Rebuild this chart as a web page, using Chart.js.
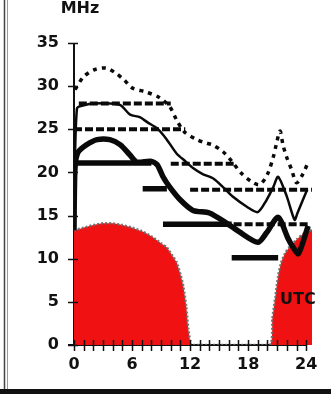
<!DOCTYPE html>
<html>
<head>
<meta charset="utf-8">
<script src="https://cdn.jsdelivr.net/npm/chart.js@4/dist/chart.umd.min.js"></script>
<style>
  html, body { margin: 0; padding: 0; background: #fff; }
  #wrap { position: relative; width: 331px; height: 394px; }
</style>
</head>
<body>
<div id="wrap"><canvas id="c"></canvas></div>
<script>
// ---- data ----
const xTickLabels = [0, 6, 12, 18, 24];
const yTickLabels = [0, 5, 10, 15, 20, 25, 30, 35];

// upper dotted curve
const upperHours = [0.1, 1.0, 2.1, 3.3, 4.2, 5.2, 6.0, 7.5, 8.8, 9.9, 10.6, 11.4, 12.7, 13.7, 14.3, 15.4, 16.3, 17.3, 18.4, 19.2, 20.0, 20.6, 20.9, 21.3, 21.6, 22.0, 22.5, 23.0, 23.6, 24.1];
const upperMHz   = [29.6, 31.1, 31.9, 32.1, 31.6, 30.7, 29.8, 29.3, 28.7, 27.6, 26.1, 24.7, 23.8, 23.4, 23.2, 22.4, 21.3, 19.9, 18.9, 18.6, 19.8, 21.8, 23.2, 24.8, 23.2, 21.7, 20.3, 18.8, 19.7, 20.9];

// thin solid curve
const thinHours = [0, 0.3, 1.1, 2.0, 3.7, 4.8, 5.8, 6.8, 7.6, 8.6, 9.6, 10.6, 11.5, 12.3, 13.3, 14.4, 15.4, 16.4, 17.9, 19.0, 19.9, 20.6, 21.1, 22.0, 22.8, 23.1, 24.1];
const thinMHz   = [14.0, 27.4, 27.8, 28.0, 28.0, 27.8, 26.7, 26.4, 25.8, 25.1, 23.8, 22.2, 21.3, 20.5, 19.8, 19.3, 18.3, 17.2, 16.0, 15.4, 16.8, 18.3, 19.5, 17.2, 14.5, 15.3, 18.0];

// thick solid curve
const thickHours = [0, 0.1, 0.4, 1.3, 2.4, 3.7, 4.8, 5.8, 6.5, 7.9, 8.6, 9.2, 9.9, 11.0, 12.3, 14.0, 15.8, 17.1, 19.0, 19.9, 21.1, 22.1, 22.6, 23.2, 24.2];
const thickMHz   = [13.3, 20.5, 22.3, 23.2, 23.8, 23.8, 23.2, 22.0, 21.2, 21.3, 20.9, 19.5, 18.3, 16.8, 15.6, 15.3, 14.1, 13.1, 11.9, 13.0, 14.8, 12.4, 11.4, 10.6, 13.8];

// dashed horizontal segments
const dashFrom  = [0.5, 0, 10, 12, 16.5];
const dashTo    = [10, 11.5, 16.5, 24.6, 24.3];
const dashLevel = [28, 25, 21, 18, 14];

// thick solid horizontal segments
const stepFrom  = [0, 7.1, 9.2, 16.3];
const stepTo    = [8, 9.6, 16.3, 21.1];
const stepLevel = [21.1, 18.1, 14, 10.1];

// red area
const redHours = [0, 1, 2, 3, 4, 5, 6, 7, 8, 9, 9.6, 10.2, 10.6, 11, 11.3, 11.6, 11.8, 12, 12.1, 20.2, 20.5, 20.8, 21.1, 21.4, 21.8, 22.3, 23, 23.7, 24.6];
const redMHz   = [13.3, 13.6, 13.9, 14.1, 14.1, 13.9, 13.6, 13.2, 12.6, 11.8, 11.3, 10.3, 9.6, 8.2, 6.8, 4.5, 2, 0.5, 0, 0, 3, 5.5, 8, 9.5, 10.6, 11.4, 12.2, 12.9, 13.4];

// ---- helpers ----
const pts = (xs, ys) => xs.map((x, i) => ({ x: x, y: ys[i] }));
const segs = (from, to, lvl) => {
  const out = [];
  from.forEach((f, i) => {
    out.push({ x: f, y: lvl[i] }, { x: to[i], y: lvl[i] }, { x: to[i], y: null });
  });
  return out;
};

const FONT = "'DejaVu Sans', 'Liberation Sans', sans-serif";

const decorPlugin = {
  id: 'decor',
  beforeDraw(chart) {
    const ctx = chart.ctx;
    ctx.save();
    ctx.fillStyle = '#fff';
    ctx.fillRect(0, 0, chart.width, chart.height);
    // frame
    ctx.strokeStyle = '#444';
    ctx.lineWidth = 1.5;
    ctx.beginPath(); ctx.moveTo(4.5, 0); ctx.lineTo(4.5, chart.height); ctx.stroke();
    ctx.strokeStyle = '#999';
    ctx.lineWidth = 1;
    ctx.beginPath(); ctx.moveTo(7.5, 0); ctx.lineTo(7.5, chart.height); ctx.stroke();
    ctx.fillStyle = '#111';
    ctx.fillRect(0, chart.height - 5, chart.width, 5);
    ctx.restore();
  },
  beforeDatasetsDraw(chart) {
    const ctx = chart.ctx, xs = chart.scales.x, ys = chart.scales.y;
    const x0 = xs.getPixelForValue(0), y0 = ys.getPixelForValue(0);
    const xEnd = xs.getPixelForValue(24), yTop = ys.getPixelForValue(35);
    ctx.save();
    ctx.strokeStyle = '#111';
    ctx.lineWidth = 2;
    ctx.beginPath();
    ctx.moveTo(x0, yTop); ctx.lineTo(x0, y0);
    ctx.moveTo(x0 - 6, y0); ctx.lineTo(xEnd, y0);
    ctx.stroke();
    ctx.restore();
  },
  afterDatasetsDraw(chart) {
    const ctx = chart.ctx, xs = chart.scales.x, ys = chart.scales.y;
    const x0 = xs.getPixelForValue(0), y0 = ys.getPixelForValue(0);
    ctx.save();
    ctx.strokeStyle = '#111';
    ctx.lineWidth = 1.5;
    ctx.beginPath();
    for (let h = 0; h <= 24; h++) {
      const px = Math.round(xs.getPixelForValue(h)) + 0.5;
      ctx.moveTo(px, y0 - 5); ctx.lineTo(px, y0 + 6);
    }
    yTickLabels.forEach(v => {
      const py = Math.round(ys.getPixelForValue(v)) + 0.5;
      ctx.moveTo(x0 - 6, py); ctx.lineTo(x0 + 4, py);
    });
    ctx.stroke();
    // text labels
    ctx.fillStyle = '#111';
    ctx.font = 'bold 16px ' + FONT;
    ctx.textAlign = 'center';
    ctx.textBaseline = 'alphabetic';
    ctx.fillText('MHz', x0 + 6, ys.top - 30);
    ctx.textAlign = 'left';
    ctx.fillText('UTC', xs.getPixelForValue(21.3), ys.getPixelForValue(4.8));
    ctx.restore();
  }
};

new Chart(document.getElementById('c'), {
  type: 'line',
  data: {
    datasets: [
      { label: 'thick', data: pts(thickHours, thickMHz), borderColor: '#0a0a0a', borderWidth: 5.5, tension: 0.25, pointRadius: 0, fill: false, order: 1 },
      { label: 'steps', data: segs(stepFrom, stepTo, stepLevel), borderColor: '#0a0a0a', borderWidth: 5.5, tension: 0, pointRadius: 0, spanGaps: false, fill: false, order: 2 },
      { label: 'thin', data: pts(thinHours, thinMHz), borderColor: '#0a0a0a', borderWidth: 2.5, tension: 0.25, pointRadius: 0, fill: false, order: 3 },
      { label: 'dashed', data: segs(dashFrom, dashTo, dashLevel), borderColor: '#0a0a0a', borderWidth: 4, borderDash: [8, 3], tension: 0, pointRadius: 0, spanGaps: false, fill: false, order: 4 },
      { label: 'upper', data: pts(upperHours, upperMHz), borderColor: '#0a0a0a', borderWidth: 3.5, borderDash: [4, 5], tension: 0.3, pointRadius: 0, fill: false, order: 5 },
      { label: 'red', data: pts(redHours, redMHz), borderColor: 'rgba(105,105,105,0.9)', borderWidth: 2.5, borderDash: [2, 2], backgroundColor: 'rgb(240,18,18)', tension: 0.2, pointRadius: 0, fill: 'origin', order: 6 }
    ]
  },
  options: {
    responsive: true,
    maintainAspectRatio: false,
    animation: false,
    events: [],
    layout: { padding: { top: 43, right: 19, bottom: 0, left: 0 } },
    plugins: { legend: { display: false }, tooltip: { enabled: false }, title: { display: false } },
    scales: {
      x: {
        type: 'linear', min: 0, max: 24.6,
        grid: { display: false, drawTicks: false },
        border: { display: false },
        afterBuildTicks: s => { s.ticks = xTickLabels.map(v => ({ value: v })); },
        afterFit: s => { s.height = 49; },
        ticks: { padding: 10, color: '#111', font: { family: FONT, size: 16, weight: 'bold' }, maxRotation: 0, autoSkip: false }
      },
      y: {
        type: 'linear', min: 0, max: 35,
        grid: { display: false, drawTicks: false },
        border: { display: false },
        afterBuildTicks: s => { s.ticks = yTickLabels.map(v => ({ value: v })); },
        afterFit: s => { s.width = 74; },
        ticks: { padding: 15, color: '#111', font: { family: FONT, size: 16, weight: 'bold' } }
      }
    }
  },
  plugins: [decorPlugin]
});
</script>
</body>
</html>
